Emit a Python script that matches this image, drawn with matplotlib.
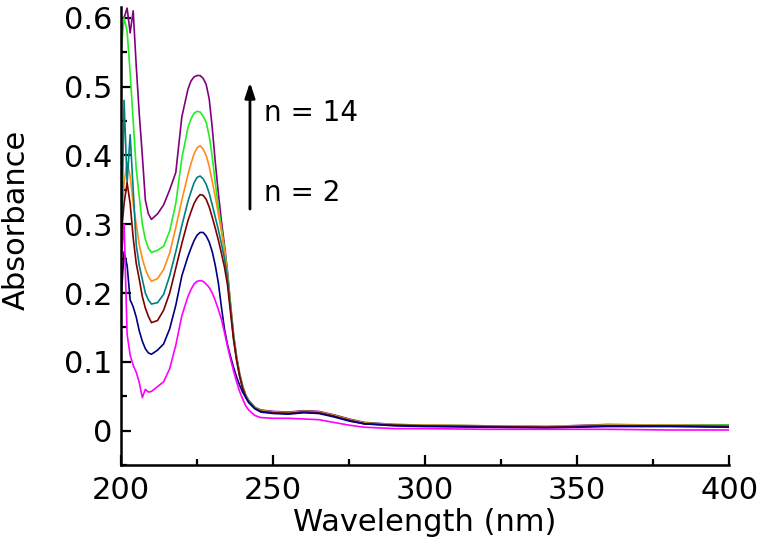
import matplotlib
matplotlib.use("Agg")
import matplotlib.pyplot as plt
from matplotlib.ticker import MultipleLocator

plt.rcParams['font.family'] = ['DejaVu Sans']

# wavelength grid (nm)
wavelength = [200, 201, 202, 203, 204, 205, 206, 207, 208, 209, 210, 212, 214,
              216, 218, 220, 222, 223, 224, 225, 226, 227, 228, 229, 230, 231,
              232, 233, 234, 235, 236, 237, 238, 239, 240, 241, 242, 244, 246,
              250, 255, 260, 265, 270, 275, 280, 290, 300, 320, 340, 360, 380,
              400]

# absorbance spectra, bottom (n = 2) to top (n = 14)
abs_magenta = [0.25, 0.30, 0.14, 0.11, 0.095, 0.085, 0.07, 0.048, 0.06, 0.056,
               0.057, 0.064, 0.071, 0.09, 0.124, 0.167, 0.195, 0.205, 0.213,
               0.217, 0.218, 0.217, 0.213, 0.208, 0.2, 0.189, 0.176, 0.162,
               0.143, 0.123, 0.104, 0.087, 0.071, 0.057, 0.046, 0.036, 0.03,
               0.022, 0.019, 0.018, 0.018, 0.017, 0.016, 0.012, 0.008, 0.005,
               0.003, 0.003, 0.002, 0.002, 0.002, 0.001, 0.001]
abs_navy = [0.19, 0.26, 0.24, 0.19, 0.18, 0.165, 0.145, 0.13, 0.119, 0.113,
            0.111, 0.117, 0.126, 0.148, 0.182, 0.225, 0.253, 0.265, 0.276,
            0.284, 0.288, 0.288, 0.283, 0.274, 0.26, 0.24, 0.215, 0.18, 0.148,
            0.125, 0.108, 0.092, 0.078, 0.066, 0.056, 0.048, 0.041, 0.032,
            0.027, 0.025, 0.024, 0.026, 0.025, 0.02, 0.014, 0.01, 0.007,
            0.006, 0.005, 0.004, 0.006, 0.006, 0.005]
abs_maroon = [0.28, 0.33, 0.36, 0.33, 0.28, 0.243, 0.22, 0.195, 0.178, 0.166,
              0.157, 0.16, 0.175, 0.2, 0.236, 0.272, 0.305, 0.318, 0.33, 0.338,
              0.343, 0.342, 0.336, 0.325, 0.31, 0.294, 0.277, 0.258, 0.238,
              0.212, 0.172, 0.132, 0.102, 0.079, 0.061, 0.049, 0.041, 0.032,
              0.028, 0.026, 0.025, 0.027, 0.026, 0.021, 0.015, 0.01, 0.008,
              0.007, 0.006, 0.005, 0.007, 0.007, 0.006]
abs_teal = [0.23, 0.48, 0.36, 0.43, 0.35, 0.27, 0.24, 0.22, 0.2, 0.19, 0.184,
            0.186, 0.198, 0.225, 0.26, 0.298, 0.333, 0.347, 0.36, 0.368, 0.37,
            0.366, 0.358, 0.345, 0.328, 0.31, 0.292, 0.272, 0.25, 0.222,
            0.178, 0.135, 0.104, 0.08, 0.062, 0.05, 0.042, 0.033, 0.028,
            0.026, 0.025, 0.027, 0.026, 0.021, 0.015, 0.01, 0.008, 0.007,
            0.006, 0.005, 0.007, 0.007, 0.006]
abs_orange = [0.30, 0.36, 0.39, 0.37, 0.33, 0.30, 0.27, 0.25, 0.235, 0.224,
              0.217, 0.221, 0.234, 0.258, 0.295, 0.335, 0.372, 0.388, 0.402,
              0.411, 0.414, 0.409, 0.4, 0.384, 0.362, 0.34, 0.315, 0.29, 0.262,
              0.226, 0.18, 0.136, 0.105, 0.081, 0.063, 0.05, 0.042, 0.033,
              0.029, 0.027, 0.026, 0.028, 0.027, 0.022, 0.016, 0.011, 0.008,
              0.008, 0.007, 0.006, 0.008, 0.008, 0.007]
abs_green = [0.55, 0.60, 0.58, 0.52, 0.45, 0.38, 0.34, 0.30, 0.278, 0.265,
             0.259, 0.262, 0.268, 0.29, 0.33, 0.396, 0.44, 0.453, 0.461, 0.464,
             0.463, 0.457, 0.448, 0.428, 0.398, 0.36, 0.325, 0.295, 0.265,
             0.228, 0.182, 0.138, 0.106, 0.082, 0.064, 0.051, 0.043, 0.034,
             0.029, 0.027, 0.026, 0.028, 0.027, 0.022, 0.016, 0.011, 0.009,
             0.008, 0.007, 0.006, 0.008, 0.008, 0.008]
abs_purple = [0.57, 0.60, 0.614, 0.578, 0.61, 0.53, 0.46, 0.40, 0.335, 0.315,
              0.307, 0.315, 0.328, 0.35, 0.375, 0.456, 0.496, 0.508, 0.514,
              0.516, 0.516, 0.512, 0.503, 0.482, 0.44, 0.39, 0.345, 0.305,
              0.27, 0.232, 0.184, 0.14, 0.108, 0.083, 0.065, 0.052, 0.044,
              0.034, 0.03, 0.028, 0.027, 0.029, 0.028, 0.023, 0.017, 0.012,
              0.009, 0.008, 0.007, 0.006, 0.009, 0.008, 0.008]

series = [
    (abs_purple, '#800080'),
    (abs_green, '#22ee22'),
    (abs_orange, '#ff8c1a'),
    (abs_teal, '#008080'),
    (abs_maroon, '#800000'),
    (abs_navy, '#000080'),
    (abs_magenta, '#ff00ff'),
]

fig = plt.figure(figsize=(7.66, 5.59), dpi=100)
ax = fig.add_axes([0.158, 0.168, 0.794, 0.82])

for vals, col in series:
    ax.plot(wavelength, vals, color=col, lw=1.2)

ax.set_xlim(200, 400)
ax.set_ylim(-0.05, 0.616)
ax.xaxis.set_major_locator(MultipleLocator(50))
ax.xaxis.set_minor_locator(MultipleLocator(25))
ax.yaxis.set_minor_locator(MultipleLocator(0.05))
ax.set_yticks([0, 0.1, 0.2, 0.3, 0.4, 0.5, 0.6])
ax.set_yticklabels(['0', '0.1', '0.2', '0.3', '0.4', '0.5', '0.6'])

for s in ['top', 'right']:
    ax.spines[s].set_visible(False)
for s in ['left', 'bottom']:
    ax.spines[s].set_linewidth(1.8)

ax.tick_params(which='major', direction='in', length=7, width=1.6,
               labelsize=22)
ax.tick_params(axis='x', which='major', pad=8)
ax.tick_params(axis='y', which='major', pad=6)
ax.tick_params(which='minor', direction='in', length=4.5, width=1.6)

ax.set_xlabel('Wavelength (nm)', fontsize=22, labelpad=2)
ax.set_ylabel('Absorbance', fontsize=22)
ax.yaxis.set_label_coords(-0.148, 0.535)

# arrow showing increasing n
ax.annotate('', xy=(242.4, 0.51), xytext=(242.4, 0.318),
            arrowprops=dict(arrowstyle='-|>,head_length=0.9,head_width=0.3',
                            color='black', lw=2))
ax.text(247.0, 0.462, 'n = 14', fontsize=20, va='center', ha='left')
ax.text(247.0, 0.346, 'n = 2', fontsize=20, va='center', ha='left')

fig.savefig('out.png', dpi=100)
